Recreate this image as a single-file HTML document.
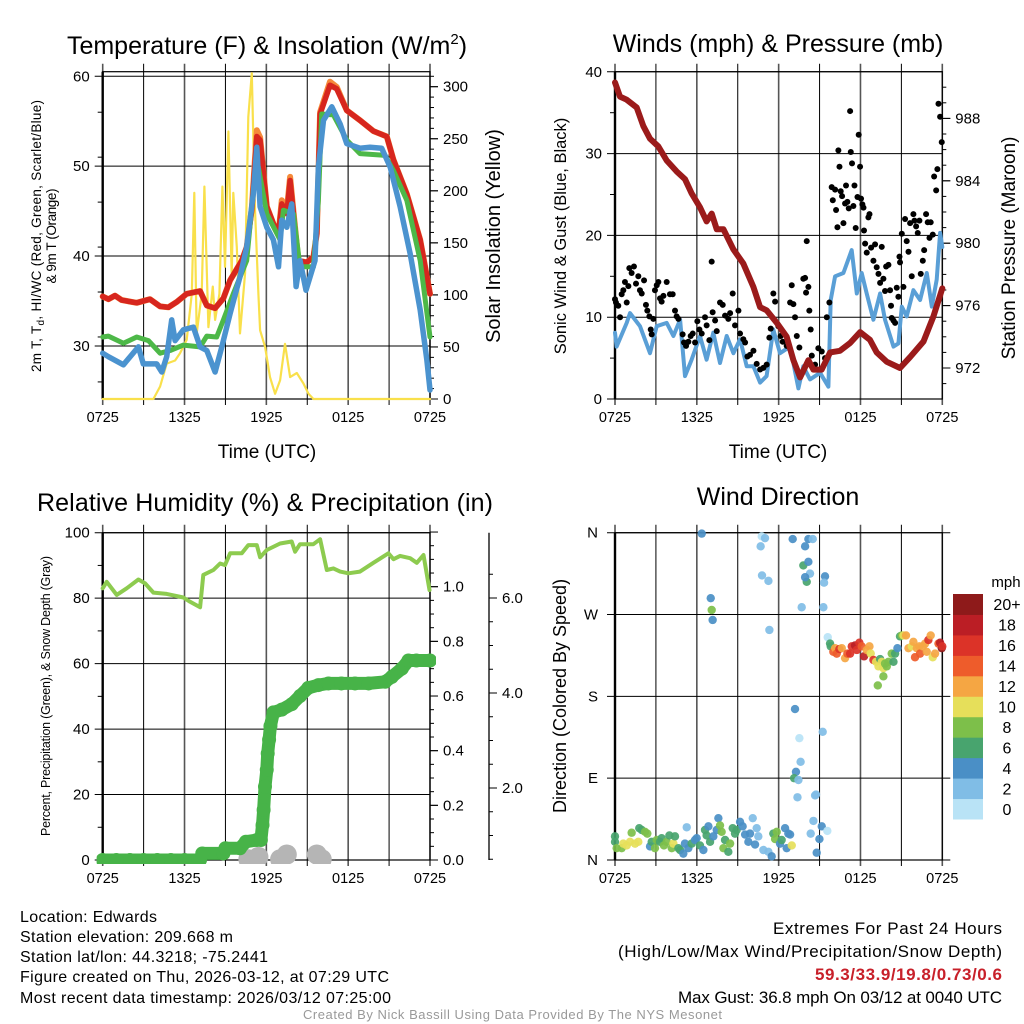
<!DOCTYPE html>
<html><head><meta charset="utf-8"><style>
html,body{margin:0;padding:0;background:#fff;}
svg{display:block;font-family:"Liberation Sans",sans-serif;}
</style></head><body>
<svg id="chart" width="1024" height="1024" viewBox="0 0 1024 1024" xmlns="http://www.w3.org/2000/svg">
<rect width="1024" height="1024" fill="#fff"/>
<g id="static" font-size="15" fill="#000">
<text x="267" y="54" font-size="25" text-anchor="middle">Temperature (F) &amp; Insolation (W/m<tspan dy="-10" font-size="15">2</tspan><tspan dy="10">)</tspan></text>
<text x="778" y="52" font-size="25" text-anchor="middle">Winds (mph) &amp; Pressure (mb)</text>
<text x="265" y="511" font-size="25" text-anchor="middle" textLength="456">Relative Humidity (%) &amp; Precipitation (in)</text>
<text x="778" y="505" font-size="25" text-anchor="middle">Wind Direction</text>
<text x="267" y="458" font-size="19" text-anchor="middle">Time (UTC)</text>
<text x="778" y="458" font-size="19" text-anchor="middle">Time (UTC)</text>
<text transform="translate(41,236) rotate(-90)" font-size="13.5" text-anchor="middle" textLength="272">2m T, T<tspan dy="3" font-size="10">d</tspan><tspan dy="-3">, HI/WC (Red, Green, Scarlet/Blue)</tspan></text>
<text transform="translate(56,236) rotate(-90)" font-size="13.5" text-anchor="middle" textLength="95">&amp; 9m T (Orange)</text>
<text transform="translate(500,236) rotate(-90)" font-size="20" text-anchor="middle">Solar Insolation (Yellow)</text>
<text transform="translate(566,236) rotate(-90)" font-size="16.5" text-anchor="middle">Sonic Wind &amp; Gust (Blue, Black)</text>
<text transform="translate(1015,248) rotate(-90)" font-size="19" text-anchor="middle">Station Pressure (Maroon)</text>
<text transform="translate(50,696) rotate(-90)" font-size="12.5" text-anchor="middle" textLength="280">Percent, Precipitation (Green), &amp; Snow Depth (Gray)</text>
<text transform="translate(566,696) rotate(-90)" font-size="18" text-anchor="middle">Direction (Colored By Speed)</text>
<g font-size="16">
<text x="20" y="922" textLength="137">Location: Edwards</text>
<text x="20" y="942" textLength="213">Station elevation: 209.668 m</text>
<text x="20" y="962" textLength="248">Station lat/lon: 44.3218; -75.2441</text>
<text x="20" y="982" textLength="369">Figure created on Thu, 2026-03-12, at 07:29 UTC</text>
<text x="20" y="1003" textLength="371">Most recent data timestamp: 2026/03/12 07:25:00</text>
</g>
<g font-size="17">
<text x="773" y="934" textLength="229">Extremes For Past 24 Hours</text>
<text x="618" y="957" textLength="384">(High/Low/Max Wind/Precipitation/Snow Depth)</text>
<text x="815" y="980" textLength="187" fill="#c8202a" font-weight="bold">59.3/33.9/19.8/0.73/0.6</text>
<text x="678" y="1003" textLength="324">Max Gust: 36.8 mph On 03/12 at 0040 UTC</text>
</g>
<text x="303" y="1019" font-size="13" fill="#999" textLength="419">Created By Nick Bassill Using Data Provided By The NYS Mesonet</text>
</g>
</svg>
<script>
// ===== Panel 1 data (hours since 0725 UTC) =====
const redT=[0,0.42,0.9,1.39,2.49,3.47,4.21,4.82,5.43,6.16,7.14,7.63,8.24,8.85,9.34,10.2,10.56,10.93,11.3,11.54,12.03,12.52,12.89,13.13,13.5,13.74,13.99,14.35,14.96,15.45,15.7,15.94,16.67,17.16,17.9,18.87,19.85,20.83,21.32,22.3,23.28,24];
const redV=[35.5,35.2,35.6,35.1,34.8,35.2,34.4,34.3,34.9,35.8,36.1,34.5,34.2,35.3,37.3,39.5,41.0,45.1,53.3,52.9,45.5,43.6,42.5,45.8,44.7,48.4,44.7,39.5,39.3,39.9,42.5,55.8,59.0,58.6,56.2,55.1,53.9,53.3,50.7,46.9,41.8,35.8];
const orangeV=[35.5,35.2,35.6,35.1,34.8,35.2,34.4,34.3,34.9,35.8,36.1,34.5,34.2,35.3,37.3,39.5,41.0,45.3,54.0,53.2,45.5,43.6,42.5,46.2,45.0,48.8,44.9,39.5,39.3,39.9,42.5,56.0,59.4,58.8,56.2,55.1,53.9,53.3,50.7,46.9,41.8,35.8];
const greenT=[0,0.42,1.52,2.49,3.35,4.21,4.94,5.92,7.14,7.63,8.36,8.85,9.58,10.56,11.17,11.42,12.03,13.01,13.25,13.99,14.47,15.45,15.82,16.06,16.92,17.9,18.87,20.71,21.32,22.3,23.28,24];
const greenV=[31.0,31.1,30.3,31.0,30.6,29.2,29.5,30.1,29.9,31.1,31.0,32.9,35.8,39.5,49.2,49.9,44.7,41.8,45.1,44.7,38.8,38.8,46.2,55.8,55.7,52.9,51.4,51.2,49.5,46.2,39.5,31.0];
const blueT=[0,0.42,1.52,2.62,2.98,3.96,4.33,4.69,5.06,5.31,5.92,6.65,7.14,7.63,8.24,8.73,9.34,10.07,10.56,11.05,11.3,11.54,12.03,12.52,12.89,13.13,13.5,13.86,14.18,14.47,14.91,15.57,15.82,16.19,16.8,17.41,17.9,18.87,19.61,20.46,21.08,21.81,22.54,23.28,23.77,24];
const blueV=[29.2,28.8,27.9,29.9,28.0,28.0,27.1,28.8,32.9,30.6,31.8,32.1,29.9,29.5,27.1,29.9,33.6,37.7,41.0,47.0,52.1,45.5,43.2,41.8,38.8,44.0,43.2,45.8,36.6,39.5,36.2,39.5,49.9,55.1,56.6,54.7,52.5,52.0,52.1,52.0,49.9,45.5,40.3,34.0,28.4,25.1];
const solarT=[0,3.72,4.21,4.69,5.31,5.67,6.16,6.53,6.72,6.89,7.26,7.46,7.75,8.07,8.24,8.56,8.78,8.97,9.22,9.46,9.58,9.83,10.07,10.44,10.68,10.93,11.17,11.42,11.54,11.91,12.27,12.64,13.01,13.37,13.74,14.23,14.72,15.09,15.45,24];
const solarV=[0,0,12,34,37,44,57,101,198,63,101,204,69,108,76,101,204,127,257,118,198,146,63,121,271,313,182,101,66,50,21,5,18,53,21,25,15,5,0,0];
const tempTicks=[30,40,50,60];
const solarTicks=[0,50,100,150,200,250,300];
const timeLabels=["0725","1325","1925","0125","0725"];
// ===== Panel 2 data =====
const presT=[0,0.37,0.86,1.59,2.08,2.57,3.18,3.79,4.52,5.13,5.62,6.23,6.72,7.09,7.46,7.95,8.68,9.41,10.15,10.64,11.12,11.86,12.59,13.08,13.57,14.18,14.55,15.16,15.77,16.5,17.24,17.97,18.7,19.19,19.93,20.9,21.64,22.62,23.35,24];
const presV=[990.3,989.4,989.2,988.7,987.5,986.7,986.2,985.3,984.6,984.1,983.2,982.3,981.4,981.9,980.9,980.9,979.6,978.7,977.2,975.9,975.7,974.9,974.0,972.5,971.4,972.5,971.9,971.9,973.0,973.1,973.6,974.3,973.8,973.0,972.4,972.0,972.7,973.7,975.3,977.1];
const windT=[0,0.12,0.86,1.1,1.83,2.57,3.06,3.79,4.28,4.77,5.13,5.62,6.23,6.72,7.21,7.7,8.19,8.68,9.17,9.66,10.15,10.64,11.12,11.61,12.1,12.84,13.45,13.81,14.3,15.04,15.65,15.82,16.14,16.75,17.36,17.73,18.09,18.46,18.95,19.44,19.8,20.42,20.78,21.03,21.39,21.88,22.37,22.86,23.23,23.59,23.84,24];
const windV=[8.1,6.4,9.3,10.5,8.9,5.6,8.9,9.3,7.7,9.7,2.8,4.8,7.7,4.8,8.1,4.4,7.7,5.6,7.3,4.0,4.0,2.0,2.8,8.5,5.6,6.4,1.3,4.0,2.4,3.2,1.5,12.1,15.0,15.4,18.2,12.9,15.4,12.9,9.7,12.9,9.7,6.4,6.8,11.3,10.1,13.3,12.1,15.4,11.3,14.6,20.3,18.6];
const gustT=[0,0.07,0.24,0.37,0.49,0.61,0.73,0.86,0.98,1.05,1.22,1.39,1.54,1.71,1.83,1.96,2.13,2.27,2.37,2.52,2.62,2.69,2.81,2.93,3.06,3.18,3.3,3.42,3.55,3.79,4.03,4.23,4.4,4.52,4.65,4.96,5.06,5.21,5.38,5.55,5.7,5.87,6.04,6.19,6.36,6.6,6.72,6.92,7.09,7.16,7.34,7.46,7.7,7.9,8.07,8.31,8.44,8.63,8.8,9.05,9.17,9.41,9.54,9.71,9.9,10.15,10.39,10.64,10.88,11.12,11.32,11.42,11.61,11.74,11.98,12.15,12.3,12.59,12.84,12.96,13.08,13.2,13.33,13.52,13.81,13.94,14.01,14.06,14.18,14.25,14.35,14.43,14.67,14.91,15.16,15.4,15.53,15.72,15.89,15.97,16.14,16.21,16.31,16.38,16.46,16.55,16.65,16.75,16.87,16.94,17.04,17.14,17.24,17.29,17.38,17.48,17.56,17.65,17.78,17.87,17.97,18.04,18.14,18.22,18.26,18.34,18.46,18.58,18.66,18.78,18.95,19.07,19.19,19.32,19.44,19.56,19.68,19.8,19.88,20.05,20.17,20.24,20.29,20.42,20.54,20.66,20.78,20.86,20.9,21.03,21.15,21.27,21.39,21.52,21.64,21.76,21.88,21.96,22.08,22.2,22.32,22.42,22.57,22.67,22.81,22.93,23.06,23.15,23.3,23.4,23.55,23.64,23.72,23.84,23.96];
const gustV=[12.2,11.8,11.4,10.0,12.8,13.3,14.3,11.8,13.8,16.0,15.4,16.2,14.1,15.0,13.3,12.9,14.5,11.5,10.8,10.1,8.5,7.9,9.8,13.3,13.9,14.3,12.3,11.9,12.6,14.3,12.8,12.8,10.8,10.1,9.8,7.9,6.9,6.5,7.0,7.7,8.0,6.9,9.5,8.5,8.0,10.0,9.0,7.2,16.8,10.6,9.6,8.3,11.8,11.5,10.2,9.8,10.5,12.9,9.0,10.8,8.0,7.3,6.9,5.2,5.4,5.9,4.3,3.6,3.8,4.2,7.5,8.6,12.9,11.9,8.9,7.7,7.0,6.5,11.8,13.9,11.6,10.0,7.7,6.3,14.7,14.8,13.0,19.3,13.7,10.8,8.5,5.3,4.2,6.2,5.8,5.0,10.0,11.8,25.9,24.3,25.6,23.1,21.0,30.4,28.4,25.4,24.8,21.5,23.9,26.1,24.1,23.3,35.2,30.2,28.8,23.6,26.1,20.9,24.7,32.3,28.4,24.5,23.8,23.4,20.6,19.0,17.9,22.2,22.6,18.5,16.9,18.9,16.1,15.3,14.2,18.6,14.7,13.2,16.2,16.4,13.3,11.4,9.9,9.6,9.3,13.6,12.5,17.4,16.7,20.2,13.7,22.0,19.3,18.0,21.5,15.0,22.6,21.8,21.1,20.3,21.8,15.3,16.9,18.2,22.6,21.6,19.7,21.6,20.1,27.2,25.5,28.1,36.1,34.5,31.4];
const windTicks=[0,10,20,30,40];
const presTicks=[972,976,980,984,988];
// ===== Panel 3 data =====
const rhT=[0,0.29,1.03,1.76,2.62,3.11,3.72,4.69,5.92,6.41,7.14,7.38,8.12,8.61,8.97,9.34,10.2,10.68,11.3,11.54,12.03,13.01,13.86,14.11,14.47,15.45,15.94,16.43,16.92,17.41,18.02,18.87,19.85,20.95,21.32,21.81,22.54,23.03,23.52,23.96];
const rhV=[83.0,85.0,81.0,83.0,85.7,84.5,81.7,81.3,80.2,78.9,77.2,87.1,88.6,90.6,90.1,93.7,93.7,96.2,96.2,92.5,94.7,96.7,97.3,94.2,96.5,96.5,98.0,88.6,89.1,88.1,87.6,88.1,90.8,93.7,91.9,92.9,92.2,90.8,93.2,82.5];
const precipT=[0,1,2,3,4,5,6,7.14,7.3,8.85,9.0,10.07,10.5,11.3,11.6,11.72,11.8,11.9,12.03,12.1,12.2,12.3,12.52,13.13,13.86,14.47,15.08,15.82,16.55,17.5,18.5,19.5,20.71,21.2,21.93,22.42,23.0,24];
const precipV=[0,0,0,0,0,0,0,0,0.024,0.024,0.043,0.043,0.067,0.073,0.073,0.128,0.183,0.268,0.33,0.39,0.44,0.49,0.54,0.55,0.57,0.6,0.63,0.64,0.646,0.646,0.646,0.646,0.652,0.67,0.7,0.73,0.73,0.73];
const snowT=[10.68,11.42,13.01,13.5,15.7,16.06];
const snowV=[0.5,0.55,0.5,0.6,0.6,0.5];
const rhTicks=[0,20,40,60,80,100];
const precipTicks=["0.0","0.2","0.4","0.6","0.8","1.0"];
const snowTicks=["2.0","4.0","6.0"];
// ===== Panel 4 data =====
const dirT=[0,0,0.12,0.49,0.61,0.86,1.1,1.22,1.47,1.71,1.78,1.96,2.2,2.37,2.57,2.69,2.93,3.06,3.3,3.42,3.59,3.79,3.99,4.16,4.28,4.4,4.65,4.77,5.01,5.13,5.26,5.38,5.62,5.87,5.99,6.23,6.48,6.6,6.72,6.85,6.97,7.21,7.46,7.58,7.7,7.82,7.95,8.07,8.31,8.44,8.63,8.8,8.92,9.17,9.36,9.54,9.78,9.9,10.1,10.27,10.39,10.51,10.88,11.25,11.49,11.61,11.74,11.86,12.1,12.22,12.47,12.59,12.71,12.84,12.96,
6.36,7.02,7.09,7.16,10.68,10.76,11.0,10.78,11.25,11.32,13.03,13.81,13.94,14.18,14.18,14.3,14.06,13.94,14.5,13.69,15.28,15.4,15.33,
13.2,13.52,13.61,13.27,13.13,13.45,13.38,14.67,14.74,15.23,14.55,15.16,14.35,14.99,14.79,15.57,
15.6,15.77,15.82,16.01,16.14,16.26,16.45,16.63,16.87,17.04,17.24,17.36,17.6,17.73,17.92,18.09,18.26,18.46,18.66,18.75,18.95,19.14,19.32,19.44,19.56,19.68,19.8,19.93,20.05,20.29,20.42,20.54,20.71,20.9,21.03,21.15,21.34,21.52,21.76,21.88,22.0,22.13,22.32,22.37,22.57,22.74,22.86,22.98,23.15,23.3,23.47,23.72,23.84,23.96,24.0,19.27,19.68];
const dirV=[20,26,13,13,18,16,20,30,18,20,35,33,31,29,15,20,13,22,20,24,16,20,27,13,18,26,13,11,7,18,36,13,18,22,24,16,11,33,27,37,20,26,33,46,38,31,13,22,9,18,35,29,33,42,37,28,20,29,46,17,35,26,11,9,4,29,23,31,18,22,35,13,29,28,16,
359,288,275,264,345,356,354,313,307,253,353,324,345,353,328,315,306,311,353,278,278,312,305,
166,134,108,97,90,88,69,71,72,141,43,37,29,23,8,32,
245,238,235,229,233,227,232,233,222,227,227,235,236,231,239,235,224,231,235,227,220,218,213,221,218,211,216,213,218,227,218,227,233,246,247,247,247,233,235,240,223,233,235,227,235,238,229,242,247,223,227,238,239,233,235,192,202];
const dirSpd=[6,7,8,8,10,10,10,8,10,10,7,7,8,8,4,6,8,8,6,7,8,8,6,8,10,6,6,6,4,4,2,4,6,4,4,6,4,6,6,4,6,4,4,4,8,8,8,6,6,8,6,6,6,4,4,4,4,4,2,4,2,2,2,2,4,6,8,8,4,6,4,4,4,4,10,
4,4,8,4,2,0,2,2,2,2,4,6,4,4,4,2,6,4,2,2,2,4,2,
4,0,2,4,6,2,2,2,2,2,2,4,2,4,4,0,
0,6,6,14,12,14,16,12,12,14,16,16,18,16,16,14,18,12,12,10,16,10,10,6,10,10,8,8,8,8,6,6,4,6,8,10,12,12,10,12,14,12,12,14,12,12,12,16,12,10,12,14,18,20,16,8,8];
const dirLabels=["N","E","S","W","N"];
const speedLabels=["0","2","4","6","8","10","12","14","16","18","20+"];
const speedColors=["#b9e3f6","#80bde6","#4a8fc6","#48a46e","#7dbf4a","#e6df5a","#f5a643","#ee5c2b","#dc3328","#bb1e25","#8e1a1a"];

const NS="http://www.w3.org/2000/svg";
const svg=document.getElementById('chart');
function mk(tag,attrs,parent){const e=document.createElementNS(NS,tag);for(const k in attrs)e.setAttribute(k,attrs[k]);(parent||svg).appendChild(e);return e;}
const P1={l:102.7,r:430,t:71.7,b:399};
const P2={l:615,r:942.3,t:71.7,b:399};
const P3={l:102.7,r:430,t:532.7,b:860};
const P4={l:615,r:942.3,t:532.7,b:860};
const xA=t=>P1.l+t*(P1.r-P1.l)/24;
const xB=t=>P2.l+t*(P2.r-P2.l)/24;
const yT=v=>399-(v-24.1)*8.99;
const yS=w=>399-w*1.041;
const yW=v=>399-v*8.18;
const yP=p=>368-(p-972)*15.6;
const yRH=v=>860-v*3.273;
const yPr=v=>860-v*273.3;
const ySn=v=>883-v*47.5;
const yD=d=>860-d*(327.3/360);

function frame(P,name,xf){
  const g=mk('g',{});
  
  
  for(let h=0;h<=24;h+=3){
    const x=xf(h);
    const ln=mk('line',{x1:x,x2:x,y1:P.t-8,y2:P.b+6,stroke:(h%6===0)?'#555':'#000','stroke-width':(h%6===0)?1.6:1},g);
    
    
  }
  timeLabels.forEach((s,i)=>{
    const t=mk('text',{x:xf(i*6),y:P.b+23,'font-size':14.5,'text-anchor':'middle'},g);
    t.textContent=s;
    
    
  });
  mk('rect',{x:P.l,y:P.t,width:P.r-P.l,height:P.b-P.t,fill:'none',stroke:'#000','stroke-width':1.2},g);
  mk('line',{x1:P.l,x2:P.l,y1:P.t,y2:P.b,stroke:'#000','stroke-width':2.4},g);
  return g;
}
function hgrid(g,P,y,lab,name){
  const ln=mk('line',{x1:P.l-8,x2:P.r,y1:y,y2:y,stroke:'#000','stroke-width':1},g);
  
  
  const t=mk('text',{x:P.l-13,y:y+5,'font-size':15,'text-anchor':'end'},g);
  t.textContent=lab;
  
  
}
function rtick(g,x,y,lab,name,len){
  mk('line',{x1:x,x2:x+(len||8),y1:y,y2:y,stroke:'#000','stroke-width':1},g);
  if(lab!==null){const t=mk('text',{x:x+13,y:y+5,'font-size':15},g);t.textContent=lab;
  
  }
}
function path(T,V,xf,yf,color,w,name,parent){
  let d='';T.forEach((t,i)=>{d+=(i?'L':'M')+xf(t).toFixed(1)+','+yf(V[i]).toFixed(1);});
  const p=mk('path',{d:d,fill:'none',stroke:color,'stroke-width':w,'stroke-linejoin':'round','stroke-linecap':'round'},parent);
  
  
  return p;
}
const defs=mk('defs',{});
[P1,P2,P3,P4].forEach((P,i)=>{const c=mk('clipPath',{id:'c'+i},defs);mk('rect',{x:P.l-6,y:P.t-4,width:P.r-P.l+12,height:P.b-P.t+8},c);});

// ===== Panel 1 =====
const g1=frame(P1,'temperature',xA);
tempTicks.forEach(v=>hgrid(g1,P1,yT(v),String(v),'temp'));
for(let v=26;v<=60;v+=5){if(v%10)mk('line',{x1:P1.l-5,x2:P1.l,y1:yT(v),y2:yT(v),stroke:'#000'},g1);}
for(let w=0;w<=310;w+=10){rtick(g1,P1.r,yS(w),null,'solar',w%50===0?8:4);}
solarTicks.forEach(w=>rtick(g1,P1.r,yS(w),String(w),'solar',8));
const d1=mk('g',{'clip-path':'url(#c0)'});
path(solarT,solarV,xA,yS,'#f9e04b',2.2,'solar-insolation-line',d1);
path(redT,orangeV,xA,yT,'#f58a3a',6,'temp-9m-orange-line',d1);
path(redT,redV,xA,yT,'#d7261e',5.5,'temp-2m-red-line',d1);
path(greenT,greenV,xA,yT,'#4db848',5,'dewpoint-green-line',d1);
path(blueT,blueV,xA,yT,'#4b93cf',5.5,'windchill-blue-line',d1);

// ===== Panel 2 =====
const g2=frame(P2,'winds',xB);
windTicks.forEach(v=>hgrid(g2,P2,yW(v),String(v),'wind'));
for(let v=5;v<40;v+=10)mk('line',{x1:P2.l-5,x2:P2.l,y1:yW(v),y2:yW(v),stroke:'#000'},g2);
for(let p=971;p<=990;p++){rtick(g2,P2.r,yP(p),null,'pressure',p%4===0?8:4);}
presTicks.forEach(p=>rtick(g2,P2.r,yP(p),String(p),'pressure',8));
const d2=mk('g',{'clip-path':'url(#c1)'});
path(windT,windV,xB,yW,'#5a9fd6',4,'sonic-wind-line',d2);
gustT.forEach((t,i)=>{
  const c=mk('circle',{cx:xB(t),cy:yW(gustV[i]),r:3,fill:'#000'},d2);
  
  
});
path(presT,presV,xB,yP,'#9b1b1b',6,'pressure-line',d2);

// ===== Panel 3 =====
const g3=frame(P3,'humidity',xA);
rhTicks.forEach(v=>hgrid(g3,P3,yRH(v),String(v),'rh'));
for(let v=10;v<100;v+=20)mk('line',{x1:P3.l-5,x2:P3.l,y1:yRH(v),y2:yRH(v),stroke:'#000'},g3);
for(let k=0;k<=24;k++){rtick(g3,P3.r,yPr(k*0.05),null,'precip',k%4===0?8:4);}
precipTicks.forEach(s=>rtick(g3,P3.r,yPr(parseFloat(s)),s,'precip',8));
mk('line',{x1:489,x2:489,y1:P3.t,y2:P3.b,stroke:'#000','stroke-width':1.3},g3);
for(let v=0.5;v<6.95;v+=0.5){if(ySn(v)<=P3.b)mk('line',{x1:489,x2:489+(v%2===0?8:4),y1:ySn(v),y2:ySn(v),stroke:'#000'},g3);}
snowTicks.forEach(s=>rtick(g3,489,ySn(parseFloat(s)),s,'snow-depth',8));
const d3=mk('g',{'clip-path':'url(#c2)'});
snowT.forEach((t,i)=>{
  const c=mk('circle',{cx:xA(t),cy:ySn(snowV[i]),r:10,fill:'#b5b5b5'},d3);
  
  
});
path(rhT,rhV,xA,yRH,'#8dcb4f',4,'relative-humidity-line',d3);
path(precipT,precipV,xA,yPr,'#47b348',13,'precipitation-line',d3);
precipT.forEach((t,i)=>{
  const c=mk('circle',{cx:xA(t),cy:yPr(precipV[i]),r:7,fill:'#47b348'},d3);
  
  
});

// ===== Panel 4 =====
const g4=frame(P4,'direction',xB);
dirLabels.forEach((s,i)=>{
  const y=yD(i*90);
  const ln=mk('line',{x1:P4.l-8,x2:P4.r+8,y1:y,y2:y,stroke:'#000','stroke-width':1},g4);
  
  
  const t=mk('text',{x:P4.l-17,y:y+5,'font-size':15,'text-anchor':'end'},g4);
  t.textContent=s;
  
  
});
const d4=mk('g',{'clip-path':'url(#c3)'});
dirT.forEach((t,i)=>{
  const idx=Math.min(10,Math.max(0,Math.floor(dirSpd[i]/2)));
  const c=mk('circle',{cx:xB(t),cy:yD(dirV[i]),r:4.2,fill:speedColors[idx],'fill-opacity':0.92},d4);
  
  
});
const cb=mk('g',{});


const cbTop=594,cbBot=819,cellH=(cbBot-cbTop)/11;
speedLabels.forEach((s,i)=>{
  const y=cbBot-(i+1)*cellH;
  const r=mk('rect',{x:953,y:y,width:30,height:cellH+0.5,fill:speedColors[i]},cb);
  
  
  const t=mk('text',{x:1007,y:y+cellH/2+6,'font-size':16,'text-anchor':'middle'},cb);
  t.textContent=s;
  
  
});
const mph=mk('text',{x:1006,y:587,'font-size':15,'text-anchor':'middle'},cb);
mph.textContent='mph';


</script>
</body></html>
